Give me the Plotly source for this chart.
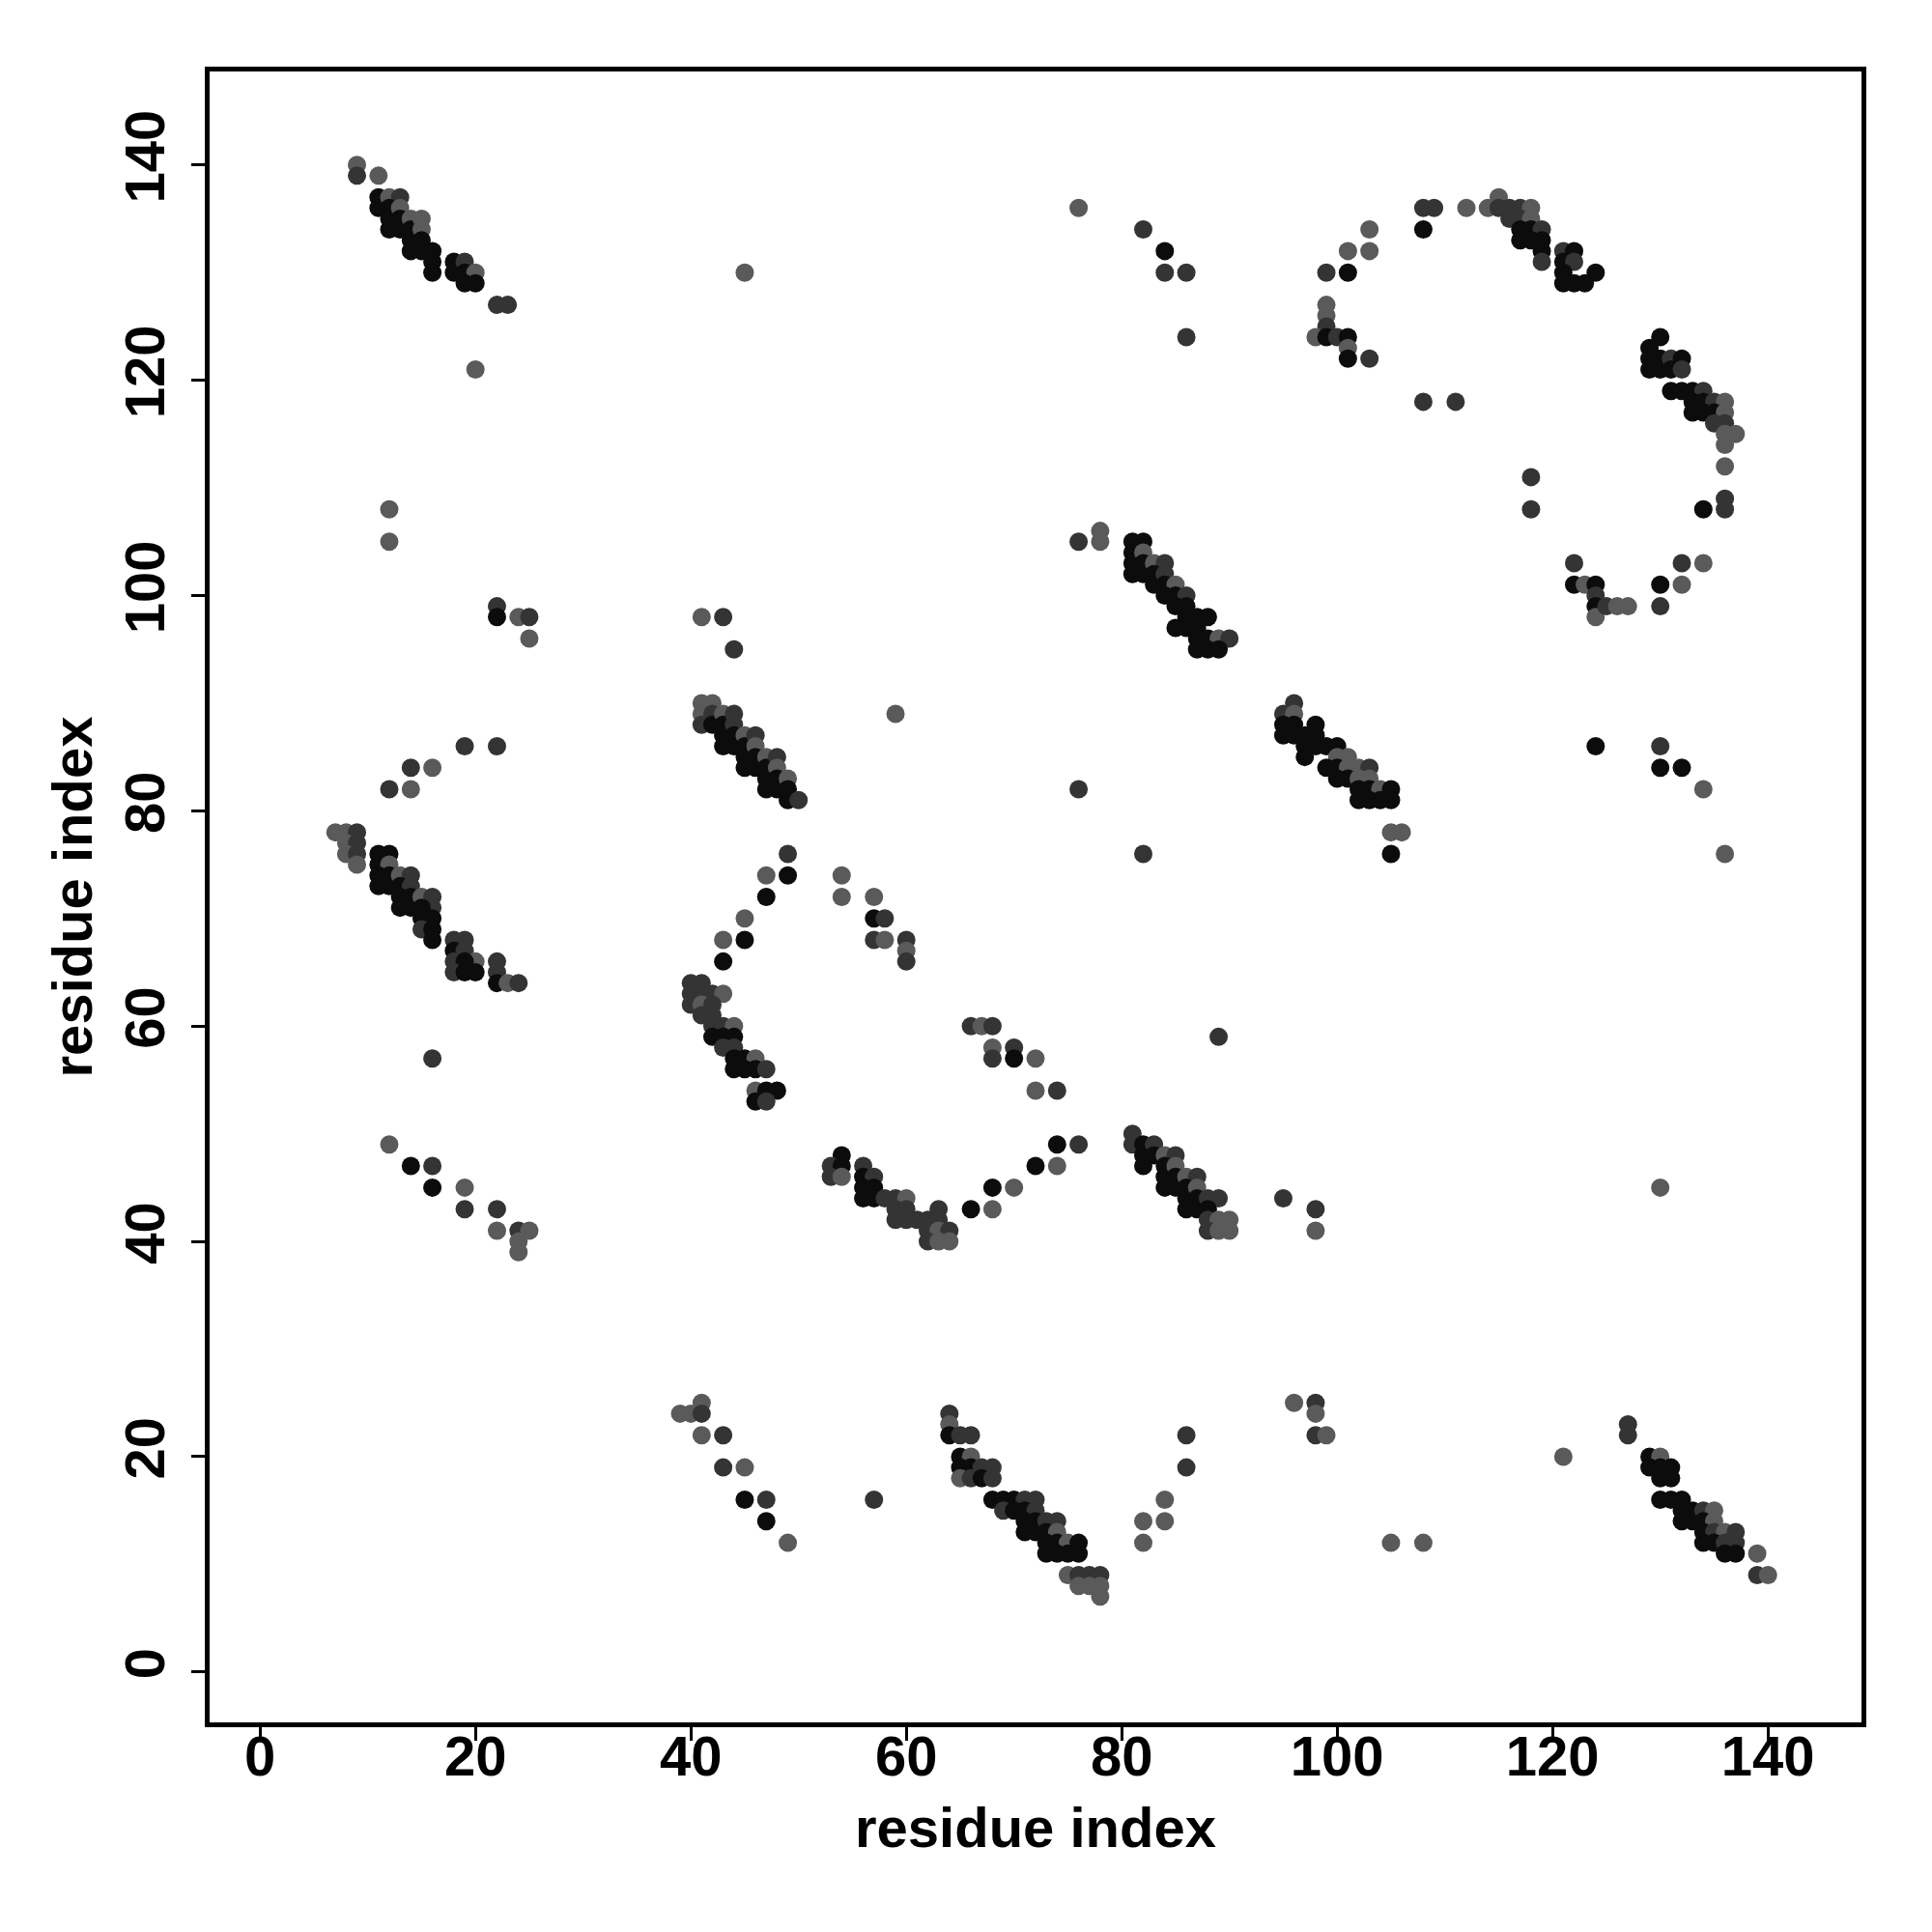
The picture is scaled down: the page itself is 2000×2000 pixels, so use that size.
import plotly.graph_objects as go

# contacts: (residue i, residue j, strength class) ; k = strong, d = medium, g = weak
upper_left = [(9,140,"g"),(9,139,"d"),(11,139,"g"),(11,137,"k"),(11,136,"k"),(12,137,"g"),(13,137,"d"),(12,136,"k"),(12,135,"k"),(12,134,"k"),(13,136,"g"),(13,135,"k"),(13,134,"k"),(14,135,"g"),(14,134,"k"),(14,133,"k"),(15,135,"g"),(15,134,"g"),(14,132,"k"),(15,133,"k"),(15,132,"k"),(16,132,"k"),(16,131,"k"),(16,130,"k"),(18,131,"k"),(18,130,"k"),(19,131,"d"),(19,130,"k"),(20,130,"g"),(19,129,"k"),(20,129,"k"),(22,127,"d"),(23,127,"d"),(20,121,"g")]

left_middle = [(12,108,"g"),(12,105,"g"),(22,99,"d"),(22,98,"k"),(24,98,"g"),(25,98,"d"),(25,96,"g"),(19,86,"d"),(22,86,"d"),
    (14,84,"d"),(16,84,"g"),(12,82,"d"),(14,82,"g"),
    (7,78,"g"),(8,78,"g"),(9,78,"d"),(8,77,"g"),(9,77,"d"),(8,76,"g"),(9,76,"d"),(9,75,"g"),
    (11,76,"k"),(12,76,"k"),(11,75,"k"),(12,75,"g"),(11,74,"k"),(11,73,"k"),(12,73,"k"),(12,74,"k"),(13,74,"g"),(14,74,"d"),(13,73,"k"),(14,73,"d"),(13,72,"k"),(13,71,"k"),(14,71,"k"),(14,72,"k"),(15,72,"g"),(16,72,"d"),(16,71,"d"),(15,71,"k"),(15,70,"k"),(16,70,"k"),(15,69,"d"),(16,69,"k"),(16,68,"k"),
    (18,68,"d"),(19,68,"d"),(18,67,"k"),(19,67,"d"),(20,66,"g"),(18,66,"d"),(19,66,"k"),(18,65,"d"),(19,65,"k"),(20,65,"k"),
    (22,66,"d"),(22,65,"d"),(22,64,"k"),(23,64,"g"),(24,64,"d"),(16,57,"d"),
    (12,49,"g"),(14,47,"k"),(16,47,"d"),(16,45,"k"),(19,45,"g"),(19,43,"d"),(22,43,"d"),(22,41,"g"),(24,41,"d"),(25,41,"g"),(24,40,"g"),(24,39,"g")]

centre_left = [(41,98,"g"),(43,98,"d"),(44,95,"d"),
    (41,90,"g"),(41,89,"g"),(41,88,"d"),(42,90,"g"),(42,89,"d"),(42,88,"k"),(43,89,"g"),(43,88,"k"),(43,87,"k"),(43,86,"k"),(44,89,"d"),(44,88,"d"),(44,87,"k"),(44,86,"k"),(45,87,"g"),(45,86,"k"),(45,85,"k"),(45,84,"k"),(46,87,"d"),(46,86,"g"),(46,85,"k"),(46,84,"k"),(47,85,"g"),(47,84,"k"),(47,83,"k"),(47,82,"k"),(48,85,"d"),(48,84,"g"),(48,83,"k"),(48,82,"k"),(49,83,"g"),(49,82,"k"),(49,81,"k"),(50,81,"d"),
    (59,89,"g"),
    (49,76,"d"),(47,74,"g"),(49,74,"k"),(47,72,"k"),(45,70,"g"),(45,68,"k"),(43,68,"g"),(43,66,"k"),
    (54,74,"g"),(54,72,"g"),(57,72,"g"),(57,70,"k"),(58,70,"d"),(57,68,"d"),(58,68,"g"),(60,68,"d"),(60,67,"g"),(60,66,"d"),
    (40,64,"d"),(41,64,"d"),(40,63,"d"),(41,63,"d"),(42,63,"d"),(43,63,"g"),(40,62,"d"),(41,62,"g"),(42,62,"d"),(42,61,"d"),(41,61,"d"),(42,60,"d"),(43,60,"d"),(44,60,"g"),(42,59,"k"),(43,59,"k"),(44,59,"k"),(43,58,"d"),(44,58,"d"),(44,57,"k"),(45,57,"k"),(46,57,"g"),(44,56,"k"),(45,56,"k"),(46,56,"k"),(47,56,"d"),(46,54,"g"),(47,54,"k"),(48,54,"k"),(46,53,"k"),(47,53,"d")]

centre = [(66,60,"d"),(67,60,"g"),(68,60,"d"),(68,58,"g"),(70,58,"d"),(68,57,"d"),(70,57,"k"),(72,57,"g"),(72,54,"g"),(74,54,"d"),(74,49,"k"),(76,49,"d"),(72,47,"k"),(74,47,"g"),(68,45,"k"),(70,45,"g"),(66,43,"k"),(68,43,"g"),(89,59,"d"),
    (54,48,"k"),(53,47,"d"),(54,47,"k"),(53,46,"d"),(54,46,"g"),(56,47,"d"),(56,46,"k"),(57,46,"d"),(56,45,"k"),(57,45,"k"),(56,44,"k"),(57,44,"k"),(58,44,"d"),(59,44,"d"),(60,44,"g"),(59,43,"d"),(60,43,"d"),(59,42,"d"),(60,42,"d"),(61,42,"d"),(62,42,"d"),(63,43,"d"),(63,42,"d"),(62,41,"d"),(63,41,"g"),(64,41,"d"),(62,40,"d"),(63,40,"g"),(64,40,"g"),
    (81,50,"d"),(81,49,"d"),(82,49,"k"),(82,48,"k"),(82,47,"k"),(83,49,"d"),(83,48,"k"),(84,48,"g"),(85,48,"d"),(84,47,"k"),(84,46,"k"),(84,45,"k"),(85,47,"g"),(85,46,"k"),(85,45,"k"),(86,46,"g"),(87,46,"d"),(86,45,"k"),(86,44,"k"),(86,43,"k"),(87,45,"g"),(87,44,"k"),(87,43,"k"),(88,44,"d"),(89,44,"d"),(88,43,"k"),(88,42,"d"),(89,42,"g"),(88,41,"d"),(89,41,"g"),(90,42,"g"),(90,41,"g")]

bottom = [(39,24,"g"),(40,24,"g"),(41,25,"g"),(41,24,"d"),(41,22,"g"),(43,22,"d"),(43,19,"d"),(45,19,"g"),(45,16,"k"),(47,16,"d"),(47,14,"k"),(49,12,"g"),(57,16,"d"),
    (64,24,"d"),(64,23,"g"),(64,22,"k"),(65,22,"d"),(66,22,"d"),(65,20,"k"),(66,20,"g"),(65,19,"k"),(66,19,"k"),(67,19,"d"),(68,19,"d"),(65,18,"g"),(66,18,"d"),(67,18,"k"),(68,18,"d"),
    (68,16,"k"),(69,16,"k"),(70,16,"k"),(71,16,"d"),(72,16,"d"),(69,15,"d"),(70,15,"k"),(71,15,"k"),(72,15,"d"),(71,14,"k"),(71,13,"k"),(72,14,"k"),(72,13,"k"),(73,14,"d"),(74,14,"d"),(73,13,"k"),(74,13,"g"),(73,12,"k"),(74,12,"k"),(75,12,"g"),(76,12,"k"),(73,11,"k"),(74,11,"k"),(75,11,"k"),(76,11,"k"),
    (75,9,"g"),(76,9,"d"),(77,9,"d"),(78,9,"d"),(76,8,"g"),(77,8,"g"),(78,8,"g"),(78,7,"g"),
    (86,22,"d"),(86,19,"d"),(84,16,"g"),(82,14,"g"),(84,14,"g"),(82,12,"g")]

upper_centre = [(45,130,"g"),(76,136,"g"),(82,134,"d"),(84,132,"k"),(84,130,"d"),(86,130,"d"),(86,124,"d"),
    (76,105,"d"),(78,106,"g"),(78,105,"g"),
    (81,105,"k"),(82,105,"k"),(81,104,"k"),(81,103,"k"),(81,102,"k"),(82,104,"g"),(82,103,"k"),(82,102,"k"),(83,103,"g"),(84,103,"d"),(83,102,"k"),(83,101,"k"),(84,102,"d"),(84,101,"k"),(85,101,"g"),(84,100,"k"),(85,100,"k"),(86,100,"d"),(85,99,"k"),(86,99,"k"),(86,98,"k"),(87,98,"k"),(88,98,"k"),(85,97,"k"),(86,97,"k"),(87,97,"k"),(87,96,"k"),(88,96,"k"),(89,96,"g"),(90,96,"d"),(87,95,"k"),(88,95,"k"),(89,95,"k")]

upper_right = [(108,136,"d"),(109,136,"d"),(108,134,"k"),(112,136,"g"),(114,136,"g"),(115,137,"g"),(115,136,"d"),(116,136,"d"),(117,136,"d"),(118,136,"g"),(116,135,"d"),(117,135,"d"),(118,135,"g"),(117,134,"k"),(118,134,"k"),(119,134,"d"),(117,133,"k"),(118,133,"k"),(119,133,"k"),(119,132,"k"),(119,131,"d"),
    (121,132,"d"),(122,132,"k"),(121,131,"k"),(122,131,"d"),(121,130,"k"),(121,129,"k"),(122,129,"k"),(123,129,"k"),(124,130,"k"),
    (103,134,"g"),(101,132,"g"),(103,132,"g"),(99,130,"d"),(101,130,"k"),
    (99,127,"g"),(99,126,"g"),(99,125,"d"),(98,124,"g"),(99,124,"k"),(100,124,"d"),(101,124,"k"),(101,123,"g"),(101,122,"k"),(103,122,"d"),
    (108,118,"d"),(111,118,"d"),
    (130,124,"k"),(129,123,"k"),(129,122,"k"),(129,121,"k"),(130,122,"k"),(130,121,"k"),(131,122,"d"),(132,122,"k"),(131,121,"k"),(132,121,"d"),(131,119,"k"),(132,119,"k"),(133,119,"k"),(134,119,"d"),(133,118,"k"),(134,118,"k"),(135,118,"d"),(136,118,"g"),(133,117,"k"),(134,117,"k"),(135,117,"k"),(136,117,"g"),(135,116,"d"),(136,116,"d"),(136,115,"g"),(137,115,"g"),(136,114,"g"),(136,112,"g"),
    (118,111,"d"),(118,108,"d"),(134,108,"k"),(136,109,"d"),(136,108,"d"),
    (122,103,"d"),(122,101,"k"),(123,101,"g"),(124,101,"k"),(124,100,"d"),(124,99,"k"),(124,98,"g"),(125,99,"d"),(126,99,"g"),(127,99,"g"),(130,101,"k"),(130,99,"d"),(132,103,"d"),(134,103,"g"),(132,101,"g")]

middle_right = [(76,82,"d"),(82,76,"d"),(124,86,"k"),(130,86,"d"),(130,84,"k"),(132,84,"k"),(134,82,"g"),(136,76,"g"),(105,78,"g"),(106,78,"g"),(105,76,"k"),
    (96,90,"d"),(95,89,"d"),(96,89,"g"),(95,88,"k"),(95,87,"k"),(96,88,"k"),(96,87,"k"),(97,87,"k"),(98,88,"k"),(98,87,"k"),(97,86,"k"),(98,86,"k"),(97,85,"k"),(99,86,"k"),(100,86,"k"),(100,85,"g"),(101,85,"g"),(99,84,"k"),(100,84,"k"),(101,84,"g"),(102,84,"g"),(103,84,"d"),(100,83,"k"),(101,83,"k"),(102,83,"g"),(103,83,"g"),(102,82,"k"),(103,82,"k"),(104,82,"g"),(105,82,"k"),(102,81,"k"),(103,81,"k"),(104,81,"k"),(105,81,"k")]

bottom_right = [(95,44,"d"),(98,43,"d"),(98,41,"g"),(130,45,"g"),(96,25,"g"),(98,25,"d"),(98,24,"g"),(98,22,"d"),(99,22,"g"),(105,12,"g"),(108,12,"g"),(121,20,"g"),(127,23,"d"),(127,22,"d"),
    (129,20,"k"),(130,20,"g"),(129,19,"k"),(130,19,"k"),(131,19,"k"),(130,18,"k"),(131,18,"k"),(130,16,"k"),(131,16,"k"),(132,16,"k"),(132,15,"k"),(132,14,"k"),(133,15,"k"),(133,14,"k"),(134,15,"d"),(135,15,"g"),(134,14,"k"),(135,14,"g"),(134,13,"k"),(135,13,"d"),(136,13,"g"),(137,13,"d"),(134,12,"k"),(135,12,"k"),(136,12,"d"),(137,12,"d"),(136,11,"k"),(137,11,"k"),(139,11,"g"),(139,9,"d"),(140,9,"g")]

tick_values = [0, 20, 40, 60, 80, 100, 120, 140]
axis_title = "residue index"

contacts = upper_left + left_middle + centre_left + centre + bottom + upper_centre + upper_right + middle_right + bottom_right
shade = {"k": "#0c0c0c", "d": "#343434", "g": "#5a5a5a"}

fig = go.Figure(go.Scatter(
    x=[c[0] for c in contacts],
    y=[c[1] for c in contacts],
    mode="markers",
    marker=dict(size=19, color=[shade[c[2]] for c in contacts], line=dict(width=0)),
    hoverinfo="x+y",
))

font = dict(family="Liberation Sans, Arial, sans-serif", size=58, color="black", weight="bold")
axis_common = dict(
    range=[-4.68, 148.68], tickvals=tick_values, ticks="outside", ticklen=14, tickwidth=3,
    tickcolor="black", showline=True, mirror=True, linewidth=5, linecolor="black",
    showgrid=False, zeroline=False, tickfont=font,
)
fig.update_xaxes(**axis_common, ticklabelstandoff=-34,
                 title=dict(text=axis_title, font=font, standoff=24))
fig.update_yaxes(**axis_common, tickangle=-90, ticklabelstandoff=5,
                 title=dict(text=axis_title, font=font, standoff=4))
fig.update_layout(
    width=2000, height=2000,
    margin=dict(l=209, r=81, t=66, b=225),
    plot_bgcolor="white", paper_bgcolor="white", showlegend=False,
)
fig.write_html("out.html")
